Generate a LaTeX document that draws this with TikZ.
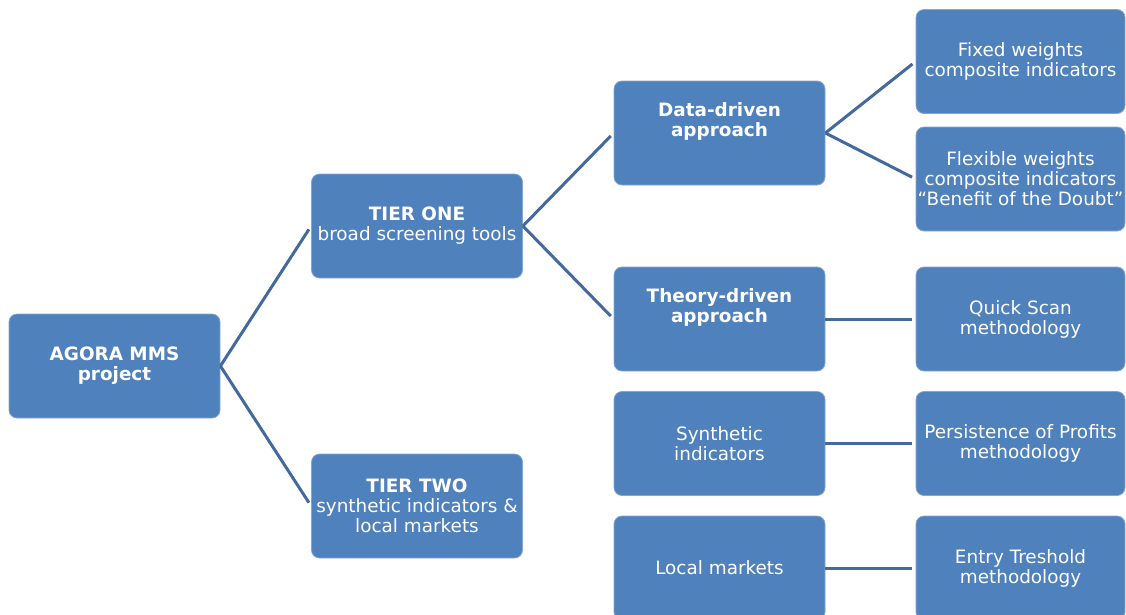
\documentclass[tikz,border=0pt]{standalone}
\usepackage{fontspec}
\setmainfont{DejaVu Sans}
\definecolor{boxfill}{HTML}{4F81BD}
\definecolor{boxedge}{HTML}{86A6D2}
\definecolor{linkcol}{HTML}{44699C}
\begin{document}
\begin{tikzpicture}[x=1pt,y=-1pt,
  box/.style={draw=boxedge,line width=0.8pt,fill=boxfill,rounded corners=8pt,
    text=white,align=center,inner sep=0pt,minimum height=104pt,
    font=\fontsize{18.4}{20}\selectfont},
  wbox/.style={box,minimum width=211pt},
  rbox/.style={box,minimum width=209pt},
  link/.style={draw=linkcol,line width=3pt,shorten >=4pt}]
\useasboundingbox (0,0) rectangle (1126,614);
\node[wbox] (agora) at (114.5,366) {\textbf{AGORA MMS}\\\textbf{project}};
\node[wbox] (t1) at (417,226) {\textbf{TIER ONE}\\broad screening tools};
\node[wbox] (t2) at (417,506) {\textbf{TIER TWO}\\synthetic indicators \&\\local markets};
\node[wbox] (data) at (719.5,133) {\textbf{Data-driven}\\\textbf{approach}\\\strut};
\node[wbox] (theory) at (719.5,319) {\textbf{Theory-driven}\\\textbf{approach}\\\strut};
\node[wbox] (synth) at (719.5,443.5) {Synthetic\\indicators};
\node[wbox] (local) at (719.5,568) {Local markets};
\node[rbox] (fixed) at (1020.5,61.5) {Fixed weights\\composite indicators};
\node[rbox] (flex) at (1020.5,179) {Flexible weights\\composite indicators\\“Benefit of the Doubt”};
\node[rbox] (quick) at (1020.5,319) {Quick Scan\\methodology};
\node[rbox] (pers) at (1020.5,443.5) {Persistence of Profits\\methodology};
\node[rbox] (entry) at (1020.5,568) {Entry Treshold\\methodology};
\draw[link] (agora.east) -- (t1.west);
\draw[link] (agora.east) -- (t2.west);
\draw[link] (t1.east) -- (data.west);
\draw[link] (t1.east) -- (theory.west);
\draw[link] (data.east) -- (fixed.west);
\draw[link] (data.east) -- (flex.west);
\draw[link] (theory.east) -- (quick.west);
\draw[link] (synth.east) -- (pers.west);
\draw[link] (local.east) -- (entry.west);
\end{tikzpicture}
\end{document}
